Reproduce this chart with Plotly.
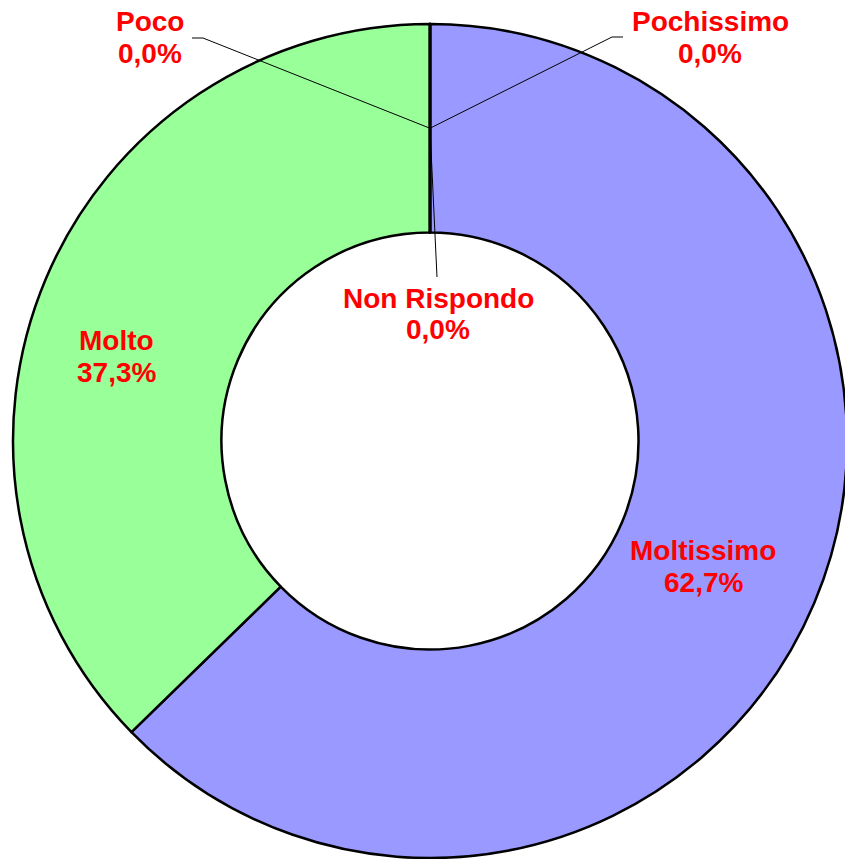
import plotly.graph_objects as go

# ---- data ----
categories = ["Moltissimo", "Molto", "Non Rispondo", "Poco", "Pochissimo"]
values = [62.7, 37.3, 0.0, 0.0, 0.0]
colors = ["#9999FF", "#99FF99", "#FFFFFF", "#FFFF99", "#FF9999"]

# ---- layout constants (page pixels) ----
W, H = 850, 859          # figure slightly wider than the window; overflow hidden
CX, CY, R = 430, 441, 417
HOLE = 0.5
FONT = dict(family="Liberation Sans, Arial, sans-serif", size=28, color="#FF0000")
LINE_GAP = 32

# label centres (first line), page px from top-left
label_pos = {
    "Moltissimo": (703, 550),
    "Molto": (117, 340),
    "Non Rispondo": (438, 298),
    "Poco": (150, 22),
    "Pochissimo": (710, 22),
}
# leader elbows for zero-valued slices
leader_pts = {
    "Poco": [(203, 38), (192, 38)],
    "Pochissimo": [(612, 37), (623, 37)],
    "Non Rispondo": [(437, 277)],
}


def px(x, y):
    return x / W, 1 - y / H


fig = go.Figure(
    go.Pie(
        labels=categories,
        values=values,
        hole=HOLE,
        sort=False,
        direction="clockwise",
        rotation=0,
        marker=dict(colors=colors, line=dict(color="black", width=2.5)),
        textinfo="none",
        hoverinfo="label+percent",
        showlegend=False,
        domain=dict(x=[(CX - R) / W, (CX + R) / W],
                    y=[1 - (CY + R) / H, 1 - (CY - R) / H]),
    )
)

total = sum(values)
annotations = []
for name, v in zip(categories, values):
    x, y = label_pos[name]
    pct = f"{100 * v / total:.1f}%".replace(".", ",")
    for i, txt in enumerate([name, pct]):
        ax, ay = px(x, y + i * LINE_GAP)
        annotations.append(dict(
            x=ax, y=ay, xref="paper", yref="paper", text=f"<b>{txt}</b>",
            showarrow=False, font=FONT, xanchor="center", yanchor="middle",
        ))

# leader lines start from the mid-radius of the ring at 12 o'clock
anchor = (CX, CY - R * (1 + HOLE) / 2)
shapes = []
for name, pts in leader_pts.items():
    seq = [anchor] + pts
    path = ""
    for j, (x, y) in enumerate(seq):
        X, Y = px(x, y)
        path += ("M" if j == 0 else " L") + f" {X},{Y}"
    shapes.append(dict(type="path", path=path, xref="paper", yref="paper",
                       line=dict(color="black", width=1)))

fig.update_layout(
    width=W, height=H,
    margin=dict(l=0, r=0, t=0, b=0),
    paper_bgcolor="white", plot_bgcolor="white",
    annotations=annotations,
    shapes=shapes,
)

fig.write_html(
    "out.html",
    config={"displayModeBar": False},
    post_script=(
        "document.body.style.margin='0';"
        "document.body.style.overflow='hidden';"
        "document.documentElement.style.overflow='hidden';"
    ),
)
